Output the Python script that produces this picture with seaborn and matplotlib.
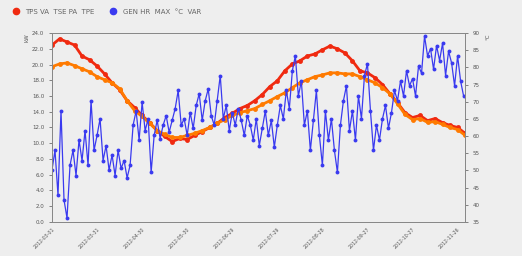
import pandas as pd
import matplotlib
matplotlib.use('Agg')
import matplotlib.pyplot as plt
import matplotlib.dates as mdates
from matplotlib.lines import Line2D
import seaborn as sns

# Series (right axis: red / orange, left axis: blue)
red_vals = [86.5, 88.3, 87.4, 86.5, 83.3, 82.2, 80.4, 78.1, 75.5, 73.5,
            70.3, 68.3, 66.0, 63.9, 61.6, 59.9, 58.4, 59.3, 59.0, 60.2,
            61.3, 62.5, 63.7, 65.4, 66.6, 68.0, 68.9, 70.3, 72.1, 74.4,
            76.1, 79.0, 81.0, 81.9, 83.3, 83.9, 85.1, 86.2, 85.4, 84.2,
            81.9, 79.0, 78.4, 77.0, 75.0, 72.3, 69.7, 66.8, 65.4, 66.0,
            64.5, 65.1, 63.9, 63.1, 62.5, 60.8]
orange_vals = [80.2, 81.0, 81.3, 80.5, 79.6, 78.7, 77.3, 76.4, 75.5, 73.8,
               70.3, 67.4, 65.7, 63.7, 61.6, 60.5, 59.6, 59.6, 60.2, 60.8,
               61.6, 62.5, 63.7, 64.8, 66.0, 66.8, 67.4, 68.0, 69.2, 70.3,
               71.5, 72.6, 74.1, 75.5, 76.4, 77.3, 77.8, 78.4, 78.4, 78.1,
               78.1, 77.3, 76.4, 75.5, 74.1, 72.3, 69.4, 66.3, 64.8, 65.1,
               64.0, 64.2, 63.4, 62.5, 61.9, 60.2]
blue_vals = [6.6, 9.1, 3.4, 14.1, 2.8, 0.5, 7.2,
             9.1, 5.9, 10.4, 7.8, 11.6, 7.2, 15.4, 9.1, 11.0, 13.1,
             7.8, 9.7, 6.6, 8.5, 5.9, 9.1, 6.8, 7.8, 5.6, 7.2,
             12.3, 14.1, 10.4, 15.2, 11.6, 13.1, 6.3, 11.0, 12.9, 10.6,
             12.3, 13.5, 11.4, 12.9, 14.4, 16.7, 12.3, 13.1, 11.0, 13.9,
             11.9, 14.8, 16.3, 12.9, 15.4, 16.9, 13.5, 12.3, 15.4, 18.6,
             13.1, 14.8, 11.6, 13.9, 12.3, 14.4, 12.9, 11.0, 13.5,
             12.3, 10.4, 13.1, 9.7, 11.9, 14.1, 11.0, 12.9, 9.5, 12.3,
             14.8, 13.1, 16.7, 14.4,
             19.2, 21.1, 16.0, 17.9, 12.3, 14.1, 9.1, 12.9, 16.7, 11.0,
             7.2, 14.1, 10.4, 13.1, 9.1, 6.3, 12.3,
             15.4, 17.3, 11.6, 14.1, 10.4, 16.0, 13.1, 18.6, 20.1, 14.1,
             9.1, 12.3, 10.4, 13.1,
             14.8, 11.9, 13.9, 16.7, 15.4, 17.9, 16.0, 19.2, 17.3, 18.2,
             16.0, 19.8, 18.9,
             23.6, 21.1, 22.0, 19.4, 22.4, 20.5, 22.7, 18.6, 21.7, 20.2,
             17.3, 21.1, 17.9, 16.0]

start = pd.Timestamp('2012-03-01')
temp_dates = pd.date_range(start, periods=len(red_vals), freq='5D')
blue_dates = pd.date_range(start, periods=len(blue_vals), freq='2D')
tick_dates = pd.date_range(start, periods=10, freq='30D')

red_label = 'TPS VA  TSE PA  TPE'
blue_label = 'GEN HR  MAX  °C  VAR'

sns.set_style('white')
fig = plt.figure(figsize=(5.22, 2.56), dpi=100, facecolor='#eeeeee')
ax = fig.add_axes([0.0996, 0.133, 0.7914, 0.738])
ax2 = ax.twinx()

sns.lineplot(x=temp_dates, y=red_vals, ax=ax2, color='#f02a10', marker='o',
             markersize=3.5, markeredgewidth=0, linewidth=2.0)
sns.lineplot(x=temp_dates, y=orange_vals, ax=ax2, color='#ff7a00', marker='o',
             markersize=3.5, markeredgewidth=0, linewidth=2.0)
sns.lineplot(x=blue_dates, y=blue_vals, ax=ax, color='#3a3af0', marker='o',
             markersize=2.8, markeredgewidth=0, linewidth=0.9)

# blue on top of the twin axis
ax.set_zorder(ax2.get_zorder() + 1)
ax.patch.set_visible(False)
ax2.set_facecolor('white')

ax.set_xlim(start, start + pd.Timedelta(days=275))
ax.set_ylim(0, 24)
ax.set_yticks(range(0, 25, 2))
ax.set_yticklabels([f'{v:.1f}' for v in range(0, 25, 2)])
ax2.set_ylim(35, 90)
ax2.set_yticks(range(35, 91, 5))

ax.set_xticks(tick_dates)
ax.xaxis.set_major_formatter(mdates.DateFormatter('%Y-%m-%d'))
ax.xaxis.set_minor_locator(mdates.DayLocator(interval=10))
plt.setp(ax.get_xticklabels(), rotation=45, ha='right', rotation_mode='anchor')
ax.set_xlabel('')
ax2.set_xlabel('')

for a in (ax, ax2):
    a.tick_params(labelsize=4, colors='#555555', length=2, width=0.5)
    a.tick_params(which='minor', length=1.5, width=0.4, colors='#888888')
    for s in a.spines.values():
        s.set_color('#888888')
        s.set_linewidth(0.7)
ax.tick_params(axis='x', labelsize=3.4, pad=1.5)

ax.set_ylabel('kW', fontsize=4, color='#555555', loc='top', labelpad=2)
ax2.set_ylabel('°C', fontsize=4, color='#555555', loc='top', labelpad=4)

handles = [Line2D([], [], color='#f02a10', marker='o', linestyle='', markersize=4.5),
           Line2D([], [], color='#3a3af0', marker='o', linestyle='', markersize=4.5)]
fig.legend(handles, [red_label, blue_label], loc='upper left',
           bbox_to_anchor=(0.005, 0.99), ncol=2, frameon=False,
           fontsize=5, handletextpad=0.4, columnspacing=1.6,
           labelcolor='#666666')

fig.savefig('out.png', dpi=100, facecolor=fig.get_facecolor())
